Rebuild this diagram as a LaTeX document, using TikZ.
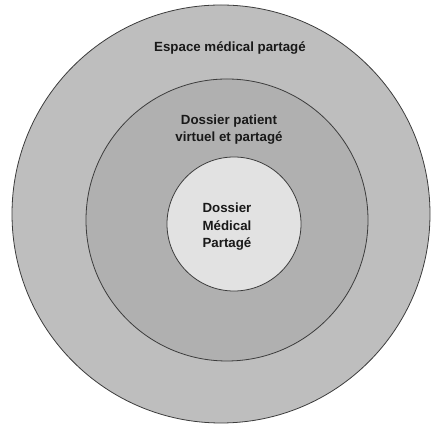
\documentclass[tikz,border=0pt]{standalone}
\usepackage{fontspec}
\setmainfont{Liberation Sans}
\usetikzlibrary{positioning}
\definecolor{espgray}{RGB}{190,190,190}
\definecolor{dosgray}{RGB}{176,176,176}
\definecolor{dmpgray}{RGB}{226,226,226}
\definecolor{rimgray}{RGB}{60,60,60}
\tikzstyle{zone} = [circle, draw=rimgray, line width=0.8pt, inner sep=0pt]
\tikzstyle{zonetext} = [font=\bfseries\fontsize{13.3}{17.5}\selectfont, align=center, text=black!90, inner sep=0pt]

\begin{document}
\begin{tikzpicture}[x=1pt, y=1pt]
\useasboundingbox (0,0) rectangle (432,425);
\node (outer) [zone, minimum size=418pt, fill=espgray] at (221,211) {};
\node (middle) [zone, minimum size=282pt, fill=dosgray] at (227,205) {};
\node (inner) [zone, minimum size=134pt, fill=dmpgray] at (234,201) {};

\node (espace) [zonetext, below=37pt of outer.north, xshift=9pt] {Espace médical partagé};
\node (dossier) [zonetext, below=36pt of middle.north, xshift=2pt] {Dossier patient\\virtuel et partagé};
\node (dmp) [zonetext, xshift=-7pt, yshift=-3pt] at (inner) {Dossier\\Médical\\Partagé};
\end{tikzpicture}
\end{document}
